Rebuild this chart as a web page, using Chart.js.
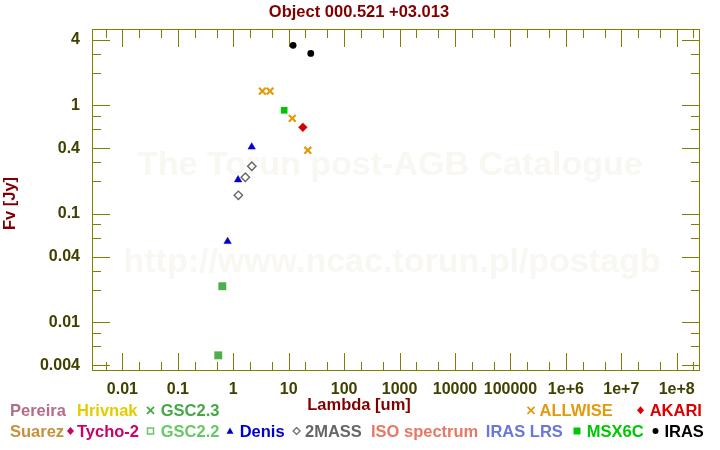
<!DOCTYPE html>
<html><head><meta charset="utf-8">
<script src="https://cdn.jsdelivr.net/npm/chart.js@4/dist/chart.umd.min.js"></script>
<style>html,body{margin:0;padding:0;background:#fff;}#wrap{position:relative;width:720px;height:450px;}</style>
</head><body><div id="wrap"><canvas id="c" width="720" height="450"></canvas></div>
<script>
// ---- text ----
const chartTitle = 'Object 000.521 +03.013';
const xAxisTitle = 'Lambda [um]';
const yAxisTitle = 'Fv [Jy]';
const watermarkLines = ['The Torun post-AGB Catalogue', 'http://www.ncac.torun.pl/postagb'];

// ---- ticks ----
const xTickValues = [0.01, 0.1, 1, 10, 100, 1000, 10000, 100000, 1e6, 1e7, 1e8];
const xTickLabels = ['0.01', '0.1', '1', '10', '100', '1000', '10000', '100000', '1e+6', '1e+7', '1e+8'];
const xMinorTickValues = [0.005, 0.02, 0.05, 0.2, 0.5, 2, 5, 20, 50, 200, 500, 2000, 5000, 2e4, 5e4, 2e5, 5e5, 2e6, 5e6, 2e7, 5e7, 2e8];
const yTickValues = [0.004, 0.01, 0.04, 0.1, 0.4, 1, 4];
const yTickLabels = ['0.004', '0.01', '0.04', '0.1', '0.4', '1', '4'];
const yMinorTickValues = [0.006, 0.008, 0.02, 0.03, 0.06, 0.08, 0.2, 0.3, 0.6, 0.8, 2, 3];
const xRange = [0.002825, 2.63e8];
const yRange = [0.003557, 5.05];

// ---- series (lambda [um], flux [Jy]) ----
const gsc22Lambda = [0.536, 0.634];
const gsc22Flux = [0.00496, 0.0215];
const gsc23Lambda = [0.536, 0.634];
const gsc23Flux = [0.00496, 0.0215];
const denisLambda = [0.79, 1.22, 2.15];
const denisFlux = [0.0556, 0.206, 0.413];
const twomassLambda = [1.235, 1.65, 2.16];
const twomassFlux = [0.148, 0.217, 0.274];
const allwiseLambda = [3.35, 4.6, 11.6, 22.1];
const allwiseFlux = [1.35, 1.35, 0.759, 0.385];
const msxLambda = [8.28];
const msxFlux = [0.899];
const akariLambda = [18];
const akariFlux = [0.627];
const irasLambda = [12, 25];
const irasFlux = [3.57, 3.01];

// ---- legend entries ----
const legendNames = ['Pereira', 'Hrivnak', 'GSC2.3', 'ALLWISE', 'AKARI',
  'Suarez', 'Tycho-2', 'GSC2.2', 'Denis', '2MASS', 'ISO spectrum', 'IRAS LRS', 'MSX6C', 'IRAS'];

const FONT = '"Liberation Sans", Arial, Helvetica, sans-serif';
const legendLayout = [
  {name: legendNames[0], color: '#b46c88', tx: 10, row: 0},
  {name: legendNames[1], color: '#e4cc00', tx: 77, row: 0},
  {name: legendNames[2], color: '#44a844', tx: 160.7, row: 0, marker: 'crossRot', mx: 150.5},
  {name: legendNames[3], color: '#e39a0c', tx: 539.5, row: 0, marker: 'crossRot', mx: 531},
  {name: legendNames[4], color: '#dd0000', tx: 649.7, row: 0, marker: 'rectRot', mx: 640.5},
  {name: legendNames[5], color: '#c8903e', tx: 10, row: 1},
  {name: legendNames[6], color: '#cc0066', tx: 77, row: 1, marker: 'rectRot', mx: 70.5},
  {name: legendNames[7], color: '#66c866', tx: 160.7, row: 1, marker: 'rectOpen', mx: 150.5},
  {name: legendNames[8], color: '#0000c8', tx: 239.7, row: 1, marker: 'triangle', mx: 230},
  {name: legendNames[9], color: '#666666', tx: 305, row: 1, marker: 'rectRotOpen', mx: 296.6},
  {name: legendNames[10], color: '#e87864', tx: 371, row: 1},
  {name: legendNames[11], color: '#6677dd', tx: 485.8, row: 1},
  {name: legendNames[12], color: '#00c800', tx: 586.8, row: 1, marker: 'rect', mx: 577},
  {name: legendNames[13], color: '#000000', tx: 664.4, row: 1, marker: 'circle', mx: 655.5}
];
const rowBaseline = [415.7, 436.7];
const rowMarkerY = [410.3, 431];

function pts(xs, ys) { return xs.map((v, i) => ({x: v, y: ys[i]})); }

function drawMarker(ctx, style, x, y, r, color) {
  ctx.save();
  ctx.fillStyle = color; ctx.strokeStyle = color; ctx.lineWidth = 1.7;
  ctx.beginPath();
  if (style === 'crossRot') {
    ctx.moveTo(x - r, y - r); ctx.lineTo(x + r, y + r);
    ctx.moveTo(x + r, y - r); ctx.lineTo(x - r, y + r);
    ctx.stroke();
  } else if (style === 'rectRot') {
    ctx.moveTo(x, y - r - 0.5); ctx.lineTo(x + r, y); ctx.lineTo(x, y + r + 0.5); ctx.lineTo(x - r, y); ctx.closePath();
    ctx.fill();
  } else if (style === 'rectRotOpen') {
    ctx.lineWidth = 1.2;
    ctx.moveTo(x, y - r); ctx.lineTo(x + r, y); ctx.lineTo(x, y + r); ctx.lineTo(x - r, y); ctx.closePath();
    ctx.stroke();
  } else if (style === 'rect') {
    ctx.rect(x - r, y - r, 2 * r, 2 * r); ctx.fill();
  } else if (style === 'rectOpen') {
    ctx.lineWidth = 1.5;
    ctx.rect(x - r + 0.5, y - r + 0.5, 2 * r - 1, 2 * r - 1); ctx.stroke();
  } else if (style === 'triangle') {
    ctx.moveTo(x, y - r); ctx.lineTo(x + r, y + r * 0.75); ctx.lineTo(x - r, y + r * 0.75); ctx.closePath(); ctx.fill();
  } else if (style === 'circle') {
    ctx.arc(x, y, r * 0.85, 0, Math.PI * 2); ctx.fill();
  }
  ctx.restore();
}

const decorPlugin = {
  id: 'decor',
  beforeDatasetsDraw(chart) {
    const {ctx, chartArea: a, scales: {x, y}} = chart;
    ctx.save();
    // watermark
    ctx.fillStyle = '#f8f7f1';
    ctx.font = 'bold 34px ' + FONT;
    ctx.textAlign = 'center'; ctx.textBaseline = 'alphabetic';
    ctx.fillText(watermarkLines[0], 390, 175);
    ctx.fillText(watermarkLines[1], 392, 272);
    // frame
    ctx.strokeStyle = '#808000'; ctx.lineWidth = 1;
    ctx.strokeRect(a.left + 0.5, a.top + 0.5, a.right - a.left - 1, a.bottom - a.top - 1);
    ctx.beginPath();
    const px = v => Math.round(x.getPixelForValue(v)) + 0.5;
    const py = v => Math.round(y.getPixelForValue(v)) + 0.5;
    const xt = (v, len) => {
      const p = px(v);
      ctx.moveTo(p, a.top); ctx.lineTo(p, a.top + len);
      ctx.moveTo(p, a.bottom); ctx.lineTo(p, a.bottom - len);
    };
    const yt = (v, len) => {
      const p = py(v);
      ctx.moveTo(a.left, p); ctx.lineTo(a.left + len, p);
      ctx.moveTo(a.right, p); ctx.lineTo(a.right - len, p);
    };
    xTickValues.forEach(v => xt(v, 18));
    xMinorTickValues.forEach(v => xt(v, 9));
    yTickValues.forEach(v => yt(v, 18));
    yMinorTickValues.forEach(v => yt(v, 9));
    ctx.stroke();
    ctx.restore();
  },
  afterDraw(chart) {
    const {ctx} = chart;
    ctx.save();
    ctx.font = 'bold 16.5px ' + FONT;
    ctx.textBaseline = 'alphabetic';
    // title
    ctx.fillStyle = '#800000';
    ctx.textAlign = 'center';
    ctx.fillText(chartTitle, 359, 17);
    // x axis title
    ctx.fillText(xAxisTitle, 359, 409.5);
    // y axis title
    ctx.save();
    ctx.translate(14.5, 203.5);
    ctx.rotate(-Math.PI / 2);
    ctx.fillText(yAxisTitle, 0, 0);
    ctx.restore();
    // legend
    ctx.textAlign = 'left';
    legendLayout.forEach(e => {
      if (e.marker) drawMarker(ctx, e.marker, e.mx, rowMarkerY[e.row], 3.5, e.color);
      ctx.fillStyle = e.color;
      ctx.fillText(e.name, e.tx, rowBaseline[e.row]);
    });
    ctx.restore();
  }
};

const tickFont = {family: FONT, size: 16, weight: 'bold'};
function labelFor(values, labels, v) {
  const i = values.findIndex(t => Math.abs(Math.log10(t) - Math.log10(v)) < 1e-6);
  return i >= 0 ? labels[i] : '';
}

new Chart(document.getElementById('c'), {
  type: 'scatter',
  data: {
    datasets: [
      {label: 'GSC2.2', data: pts(gsc22Lambda, gsc22Flux), pointStyle: 'rect', pointRadius: 5.6,
       backgroundColor: '#4caf4c', borderColor: '#4caf4c', borderWidth: 0},
      {label: 'GSC2.3', data: pts(gsc23Lambda, gsc23Flux), pointStyle: 'crossRot', pointRadius: 3.6,
       borderColor: '#6fcf6f', borderWidth: 1.2},
      {label: 'Denis', data: pts(denisLambda, denisFlux), pointStyle: 'triangle', pointRadius: 4.3,
       backgroundColor: '#0000c8', borderColor: '#0000c8', borderWidth: 0.5},
      {label: '2MASS', data: pts(twomassLambda, twomassFlux), pointStyle: 'rectRot', pointRadius: 4.2,
       backgroundColor: 'rgba(255,255,255,0)', borderColor: '#666666', borderWidth: 1.4},
      {label: 'ALLWISE', data: pts(allwiseLambda, allwiseFlux), pointStyle: 'crossRot', pointRadius: 4.8,
       borderColor: '#e39a0c', borderWidth: 2.2},
      {label: 'MSX6C', data: pts(msxLambda, msxFlux), pointStyle: 'rect', pointRadius: 4.7,
       backgroundColor: '#00c800', borderColor: '#00c800', borderWidth: 0},
      {label: 'AKARI', data: pts(akariLambda, akariFlux), pointStyle: 'rectRot', pointRadius: 4.4,
       backgroundColor: '#d40000', borderColor: '#d40000', borderWidth: 0.5},
      {label: 'IRAS', data: pts(irasLambda, irasFlux), pointStyle: 'circle', pointRadius: 3.4,
       backgroundColor: '#000000', borderColor: '#000000', borderWidth: 0}
    ]
  },
  options: {
    responsive: false,
    animation: false,
    devicePixelRatio: 1,
    layout: {padding: {top: 29, right: 20, left: 0, bottom: 0}},
    plugins: {legend: {display: false}, title: {display: false}, tooltip: {enabled: false}},
    scales: {
      x: {
        type: 'logarithmic', position: 'bottom', bounds: 'data',
        min: xRange[0], max: xRange[1],
        grid: {display: false}, border: {display: false},
        afterBuildTicks: s => { s.ticks = xTickValues.map(v => ({value: v, major: false})); },
        afterFit: s => { s.height = 79; },
        ticks: {autoSkip: false, maxRotation: 0, minRotation: 0, padding: 1, color: '#404000', font: tickFont,
          callback: v => labelFor(xTickValues, xTickLabels, v)}
      },
      y: {
        type: 'logarithmic', position: 'left', bounds: 'data',
        min: yRange[0], max: yRange[1],
        grid: {display: false}, border: {display: false},
        afterBuildTicks: s => { s.ticks = yTickValues.map(v => ({value: v, major: false})); },
        afterFit: s => { s.width = 92; },
        ticks: {autoSkip: false, padding: 4, color: '#404000', font: tickFont,
          callback: v => labelFor(yTickValues, yTickLabels, v)}
      }
    }
  },
  plugins: [decorPlugin]
});
</script></body></html>
